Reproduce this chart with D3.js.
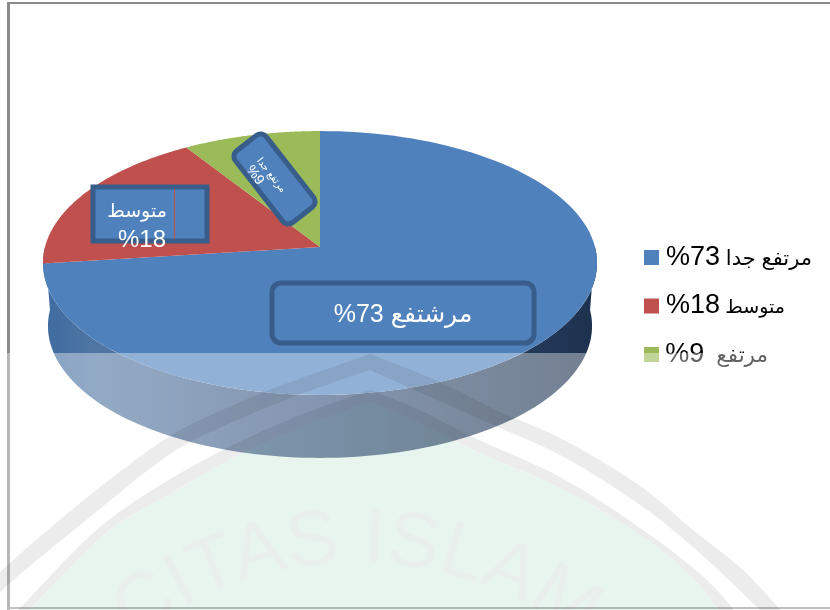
<!DOCTYPE html>
<html>
<head>
<meta charset="utf-8">
<script src="https://cdn.jsdelivr.net/npm/d3@7"></script>
<style>
	html, body { margin: 0; padding: 0; background: #fff; }
	svg { display: block; }
	text { font-family: "Liberation Sans", "DejaVu Sans", sans-serif; direction: rtl; }
</style>
</head>
<body>
<svg id="chart" width="830" height="610"></svg>
<script>
	var categories = ['مرتفع جدا', 'متوسط', 'مرتفع'];
	var values = [73, 18, 9];
	var colors = ['#4f81bd', '#c0504d', '#9bbb59'];
	var sideStops = ['#3f6ba0', '#5076a3', '#42618c', '#3a5580', '#2c4566', '#1d314e'];
	var sideOffsets = [0, 0.1, 0.34, 0.5, 0.74, 1];

	// each edge is [left half, right half]
	var outerTop = [[[-10, 582], [10, 563], [90, 495], [167, 438], [200, 420], [267, 391], [370, 354]],
		[[370, 354], [440, 382], [500, 412], [560, 438], [643, 488], [693, 530], [743, 570], [785, 615]]];
	var outerBottom = [[[-10, 602], [10, 583], [90, 517], [170, 454], [200, 437], [293, 397], [370, 370]],
		[[370, 370], [417, 391], [500, 428], [560, 455], [643, 507], [693, 547], [757, 607], [765, 615]]];
	var innerTop = [[[10, 618], [23, 605], [100, 527], [167, 481], [233, 445], [293, 418], [370, 390]],
		[[370, 390], [413, 407], [477, 439], [560, 477], [643, 530], [707, 580], [732, 608], [740, 620]]];
	var innerBottom = [[[20, 618], [33, 606], [110, 530], [177, 490], [233, 458], [300, 428], [370, 402]],
		[[370, 402], [413, 420], [477, 452], [560, 488], [637, 533], [690, 575], [717, 608], [725, 620]]];

	var svg = d3.select('#chart');
	var defs = svg.append('defs');

	var pie = d3.pie().sort(null)(values);
	var lean = 0.1212;
	var y = d3.scaleLinear().domain([-1, 1]).range([377, 117]);
	var x = d3.scaleLinear().domain([-1, 1]).range([45, 595]);

	// flat disc seen in perspective, apex sits above the middle of the ellipse
	function project(a, drop, squeeze) {
		var u = Math.sin(a), v = Math.cos(a), w = 1 + lean * v;
		return [320 + (x(u / w) - 320) * (squeeze || 1), y(v / w) + (drop || 0)];
	}

	var line = d3.line();

	function arcPoints(a0, a1, drop, squeeze) {
		return d3.range(0, 121).map(function(i) {
			return project(a0 + (a1 - a0) * i / 120, drop, squeeze);
		});
	}

	var sideGrad = defs.append('linearGradient')
		.attr('id', 'side')
		.attr('gradientUnits', 'userSpaceOnUse')
		.attr('x1', 43).attr('x2', 597).attr('y1', 0).attr('y2', 0);
	sideGrad.selectAll('stop').data(sideStops).enter().append('stop')
		.attr('offset', function(d, i) { return sideOffsets[i]; })
		.attr('stop-color', function(d) { return d; });

	// frame
	var frame = svg.append('g').attr('fill', '#8a8a8a');
	frame.append('rect').attr('x', 7).attr('y', 2).attr('width', 3).attr('height', 608);
	frame.append('rect').attr('x', 7).attr('y', 2).attr('width', 823).attr('height', 2);
	frame.append('rect').attr('x', 7).attr('y', 607).attr('width', 823).attr('height', 2).attr('fill', '#999');

	// pie side
	var rim = arcPoints(Math.PI * 0.5, Math.PI * 1.5, 63, 0.982);
	var topEdge = arcPoints(Math.PI * 0.5, Math.PI * 1.5);
	svg.append('path')
		.attr('d', line(rim.concat(topEdge.slice().reverse())) + 'Z')
		.attr('fill', 'url(#side)');

	// pie top
	svg.append('g').selectAll('path')
		.data(pie)
		.enter().append('path')
		.attr('d', function(d) {
			return line([[320, y(0)]].concat(arcPoints(d.startAngle, d.endAngle))) + 'Z';
		})
		.attr('fill', function(d, i) { return colors[i]; });

	// data labels
	var labels = svg.append('g').attr('fill', '#fff');

	labels.append('rect')
		.attr('x', 272).attr('y', 283).attr('width', 262).attr('height', 60).attr('rx', 9)
		.attr('fill', colors[0]).attr('stroke', '#385d8a').attr('stroke-width', 5);
	labels.append('text')
		.attr('x', 403).attr('y', 321.5).attr('text-anchor', 'middle')
		.attr('font-size', 25)
		.text('مرشتفع ' + values[0] + '%');

	labels.append('rect')
		.attr('x', 93).attr('y', 187).attr('width', 114).attr('height', 54)
		.attr('fill', colors[0]).attr('stroke', '#385d8a').attr('stroke-width', 5);
	labels.append('line')
		.attr('x1', 174.5).attr('x2', 174.5).attr('y1', 189).attr('y2', 239)
		.attr('stroke', colors[1]);
	labels.append('text')
		.attr('x', 137).attr('y', 217).attr('text-anchor', 'middle')
		.attr('font-size', 19)
		.text(categories[1]);
	labels.append('text')
		.attr('x', 142).attr('y', 247).attr('text-anchor', 'middle')
		.attr('font-size', 24)
		.text('%' + values[1]);

	var tilted = labels.append('g').attr('transform', 'translate(274.5,179) rotate(52)');
	tilted.append('rect')
		.attr('x', -45.5).attr('y', -19.5).attr('width', 91).attr('height', 39).attr('rx', 7)
		.attr('fill', colors[0]).attr('stroke', '#385d8a').attr('stroke-width', 5);
	tilted.append('text')
		.attr('x', -5).attr('y', 3).attr('text-anchor', 'middle')
		.attr('font-size', 10)
		.text(categories[0]);
	tilted.append('text')
		.attr('x', -15).attr('y', 17).attr('text-anchor', 'middle')
		.attr('font-size', 14)
		.text('%' + values[2]);

	// legend
	var legendRight = [168, 141, 124];
	var legendNameSize = [21, 19, 21.5];
	var legendGap = [' ', ' ', '\u00a0\u00a0'];
	var legend = svg.append('g').selectAll('g')
		.data(categories)
		.enter().append('g')
		.attr('transform', function(d, i) { return 'translate(644,' + (250 + i * 48.5) + ')'; });
	legend.append('rect')
		.attr('width', 15).attr('height', 15)
		.attr('fill', function(d, i) { return colors[i]; });
	var legendText = legend.append('text')
		.attr('x', function(d, i) { return legendRight[i]; })
		.attr('y', 14.5)
		.attr('fill', '#000');
	legendText.append('tspan')
		.attr('font-size', function(d, i) { return legendNameSize[i]; })
		.text(function(d, i) { return d + legendGap[i]; });
	legendText.append('tspan')
		.attr('font-size', 27)
		.text(function(d, i) { return values[i] + '%'; });

	// the scanned page fades everything under this line
	svg.append('rect')
		.attr('x', 0).attr('y', 353).attr('width', 830).attr('height', 257)
		.attr('fill', '#fff').attr('fill-opacity', 0.38);

	// emblem watermark
	var emblem = svg.append('g').style('mix-blend-mode', 'multiply');
	var curve = d3.line().curve(d3.curveCatmullRom.alpha(0.5));

	// two halves meet in a sharp point at the top of the emblem
	function edge(halves) {
		return curve(halves[0]) + curve(halves[1]).replace('M', 'L');
	}
	function edgeBack(halves) {
		return curve(halves[1].slice().reverse()).replace('M', 'L') + curve(halves[0].slice().reverse()).replace('M', 'L');
	}

	emblem.append('path')
		.attr('d', edge(outerTop) + edgeBack(outerBottom) + 'Z')
		.attr('fill', '#ececec');
	emblem.append('path')
		.attr('d', edge(innerTop) + edgeBack(innerBottom) + 'Z')
		.attr('fill', '#ececec');
	emblem.append('path')
		.attr('d', edge(innerBottom) + 'L725,640L20,640Z')
		.attr('fill', '#e8f5ef');

	defs.append('path').attr('id', 'arcText').attr('d', 'M 17,804 A 360,360 0 0 1 697,804');
	emblem.append('text')
		.attr('font-size', 78)
		.attr('fill', '#e9efec')
		.style('direction', 'ltr')
		.attr('text-anchor', 'middle')
		.append('textPath')
		.attr('href', '#arcText')
		.attr('startOffset', '50%')
		.text('CITAS ISLAM');
</script>
</body>
</html>
